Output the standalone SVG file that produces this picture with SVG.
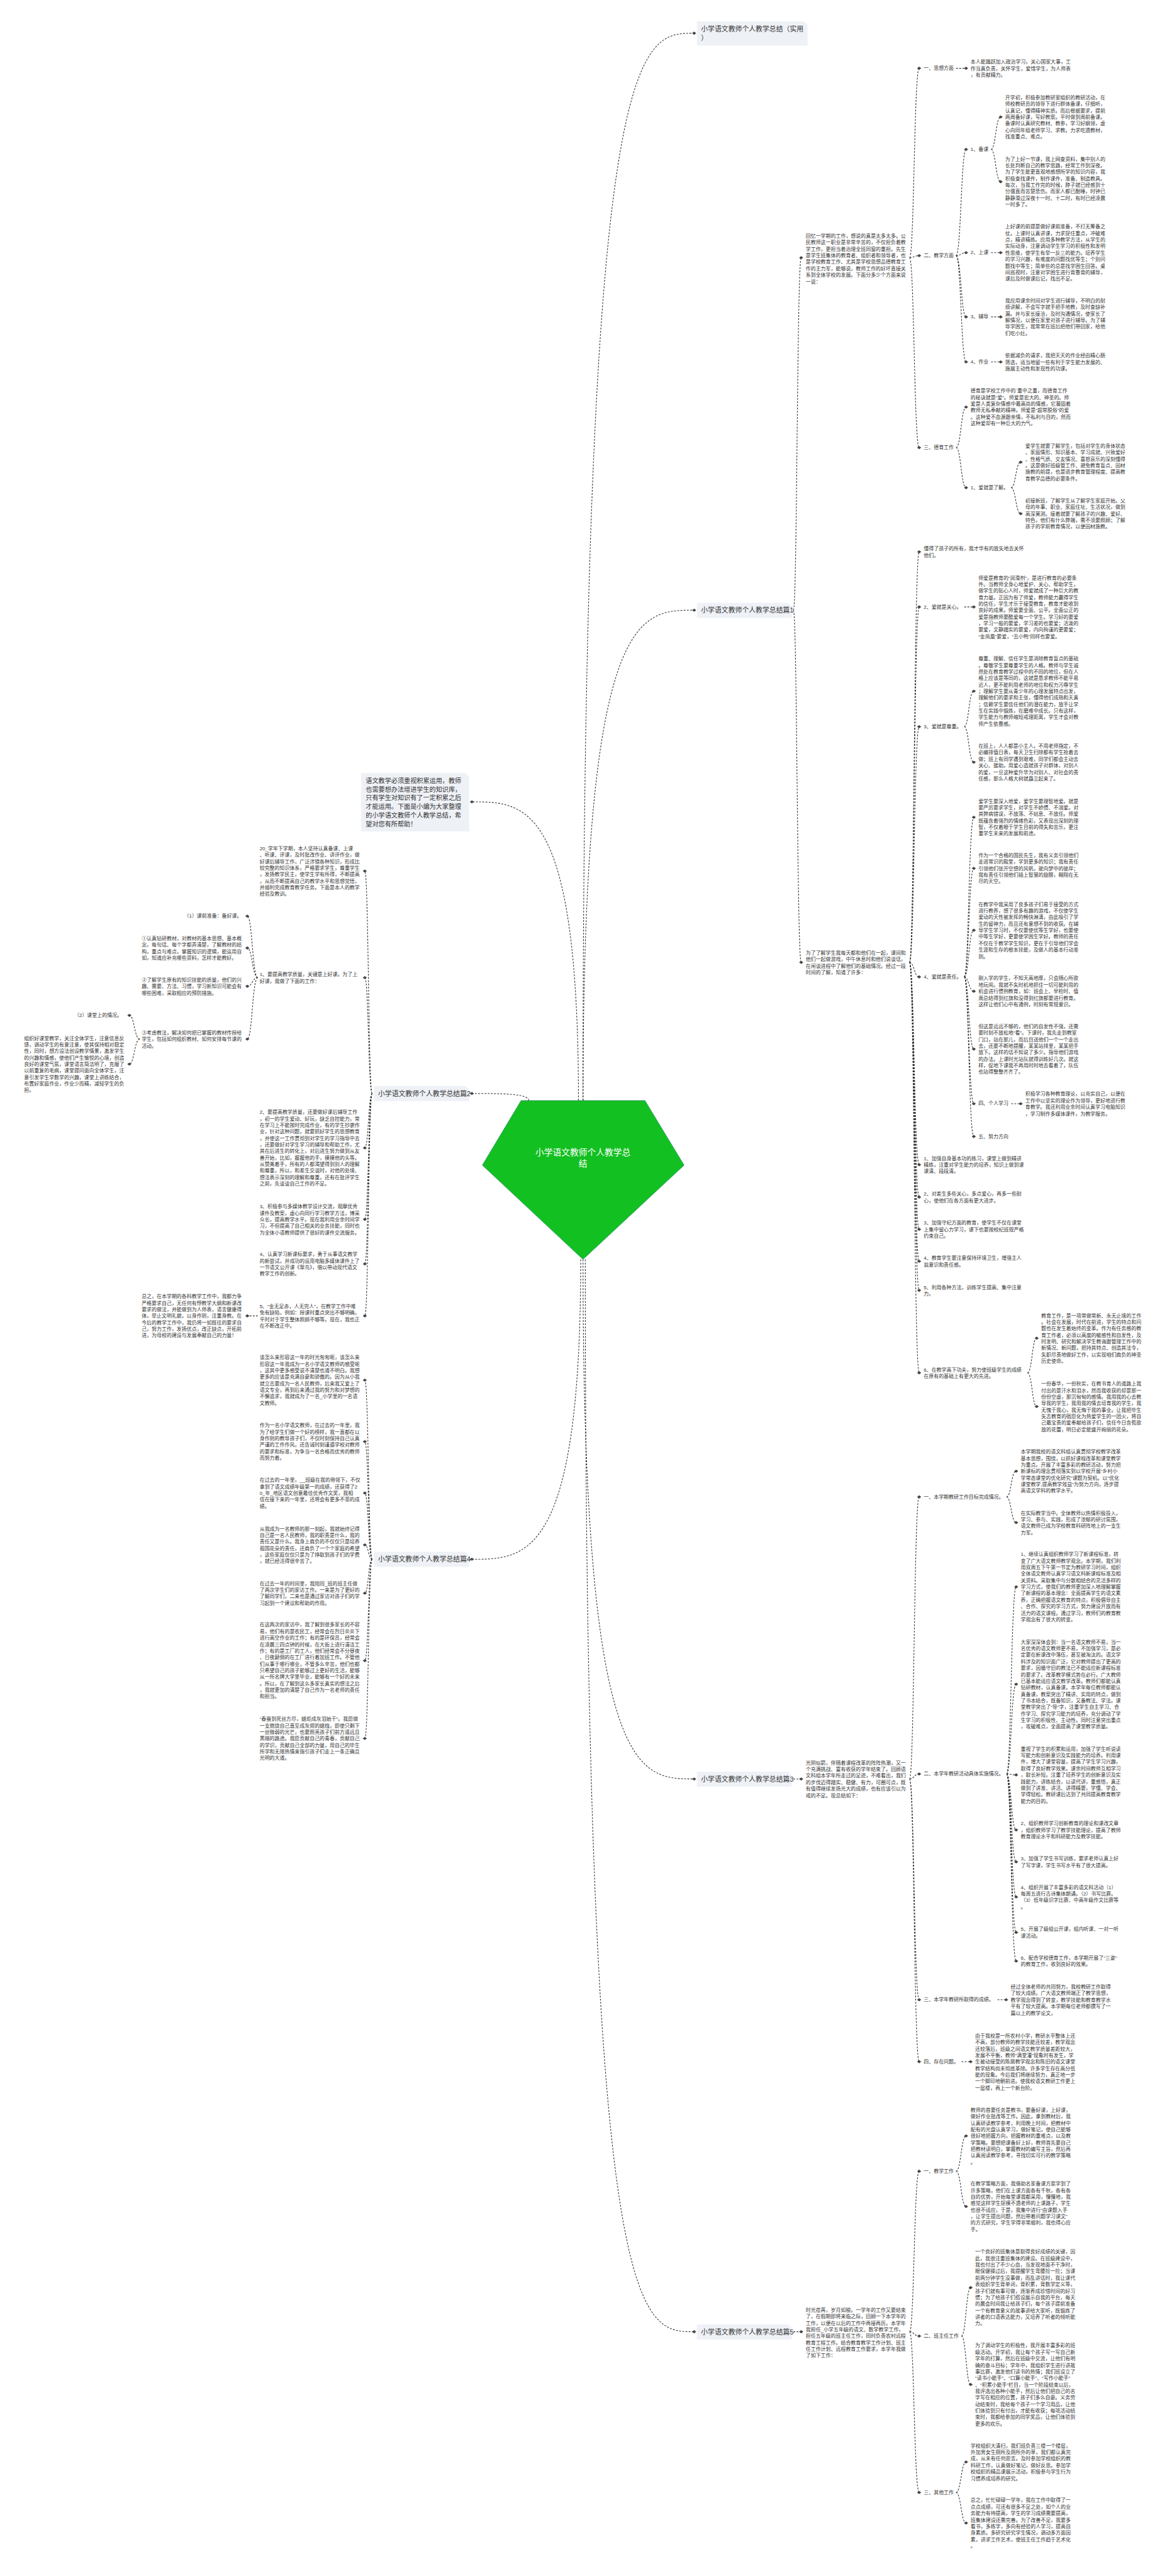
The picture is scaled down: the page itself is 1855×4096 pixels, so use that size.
<svg xmlns="http://www.w3.org/2000/svg" width="1855" height="4096" viewBox="0 0 1855 4096">
<style>
.t{font-family:'Liberation Sans','Noto Sans CJK SC',sans-serif;font-size:11px;fill:#333;dominant-baseline:central}
.h{font-size:15px}
.i{font-size:14px}
.m{font-size:19px;fill:#fff;text-anchor:middle}
.e{text-anchor:end}
.c{fill:none;stroke:#333;stroke-width:1.5;stroke-dasharray:4 3;marker-end:url(#dm)}
.b{fill:#eef1f6}
</style>
<defs>
<marker id="dm" markerUnits="userSpaceOnUse" markerWidth="10" markerHeight="10" viewBox="-5 -5 10 10" refX="0" refY="0" orient="0"><path d="M-4.5,0L0,-3.5L4.5,0L0,3.5Z" fill="#444"/></marker>
</defs>
<rect width="1855" height="4096" fill="#fff"/>
<g transform="scale(0.724)">
<g id="connectors">
<path class="c" d="M1270,2417C1270,1761 1153,1761 1036,1761"/>
<path class="c" d="M1161,2417C1161,2401.5 1098,2401.5 1036,2401.5"/>
<path class="c" d="M1275,2766C1275,3424.5 1155,3424.5 1036,3424.5"/>
<path class="c" d="M1280,2417C1280,73 1402,73 1524,73"/>
<path class="c" d="M1280,2417C1280,1340 1402,1340 1524,1340"/>
<path class="c" d="M1280,2766C1280,3907 1402,3907 1524,3907"/>
<path class="c" d="M1285,2766C1285,5121 1404,5121 1524,5121"/>
<path class="c" d="M1742,1340C1750,1340 1750,566 1759,566"/>
<path class="c" d="M1742,1340C1750,1340 1750,2113.5 1759,2113.5"/>
<path class="c" d="M1997,566C2007,566 2007,150 2018,150"/>
<path class="c" d="M1997,566C2007,566 2007,561.5 2018,561.5"/>
<path class="c" d="M1997,566C2007,566 2007,983 2018,983"/>
<path class="c" d="M2099,150L2121,150"/>
<path class="c" d="M2099,561.5C2110,561.5 2110,328 2121,328"/>
<path class="c" d="M2099,561.5C2110,561.5 2110,555 2121,555"/>
<path class="c" d="M2099,561.5C2110,561.5 2110,696 2121,696"/>
<path class="c" d="M2099,561.5C2110,561.5 2110,795 2121,795"/>
<path class="c" d="M2176,328C2186,328 2186,257 2197,257"/>
<path class="c" d="M2176,328C2186,328 2186,399 2197,399"/>
<path class="c" d="M2176,555L2197,555"/>
<path class="c" d="M2176,696L2197,696"/>
<path class="c" d="M2176,795L2197,795"/>
<path class="c" d="M2099,983C2110,983 2110,894 2121,894"/>
<path class="c" d="M2099,983C2110,983 2110,1071 2121,1071"/>
<path class="c" d="M2220,1071C2230,1071 2230,1015 2241,1015"/>
<path class="c" d="M2220,1071C2230,1071 2230,1128 2241,1128"/>
<path class="c" d="M1997,2113.5C2007,2113.5 2007,1212 2018,1212"/>
<path class="c" d="M1997,2113.5C2007,2113.5 2007,1333 2018,1333"/>
<path class="c" d="M1997,2113.5C2007,2113.5 2007,1596 2018,1596"/>
<path class="c" d="M1997,2113.5C2007,2113.5 2007,2145.5 2018,2145.5"/>
<path class="c" d="M1997,2113.5C2007,2113.5 2007,2558 2018,2558"/>
<path class="c" d="M1997,2113.5C2007,2113.5 2007,2629 2018,2629"/>
<path class="c" d="M1997,2113.5C2007,2113.5 2007,2700 2018,2700"/>
<path class="c" d="M1997,2113.5C2007,2113.5 2007,2770 2018,2770"/>
<path class="c" d="M1997,2113.5C2007,2113.5 2007,2834 2018,2834"/>
<path class="c" d="M1997,2113.5C2007,2113.5 2007,3015 2018,3015"/>
<path class="c" d="M2117,1333L2138,1333"/>
<path class="c" d="M2117,1596C2127,1596 2127,1518 2138,1518"/>
<path class="c" d="M2117,1596C2127,1596 2127,1674 2138,1674"/>
<path class="c" d="M2117,2145.5C2127,2145.5 2127,1795 2138,1795"/>
<path class="c" d="M2117,2145.5C2127,2145.5 2127,1907 2138,1907"/>
<path class="c" d="M2117,2145.5C2127,2145.5 2127,2043 2138,2043"/>
<path class="c" d="M2117,2145.5C2127,2145.5 2127,2177 2138,2177"/>
<path class="c" d="M2117,2145.5C2127,2145.5 2127,2304 2138,2304"/>
<path class="c" d="M2117,2145.5C2127,2145.5 2127,2424 2138,2424"/>
<path class="c" d="M2117,2145.5C2127,2145.5 2127,2496 2138,2496"/>
<path class="c" d="M2220,2424L2241,2424"/>
<path class="c" d="M2256,3015C2266,3015 2266,2939 2276,2939"/>
<path class="c" d="M2256,3015C2266,3015 2266,3089 2276,3089"/>
<path class="c" d="M1742,3907L1759,3907"/>
<path class="c" d="M1997,3907C2007,3907 2007,3287.5 2018,3287.5"/>
<path class="c" d="M1997,3907C2007,3907 2007,3896 2018,3896"/>
<path class="c" d="M1997,3907C2007,3907 2007,4392 2018,4392"/>
<path class="c" d="M1997,3907C2007,3907 2007,4528 2018,4528"/>
<path class="c" d="M2210,3287.5C2220,3287.5 2220,3231 2231,3231"/>
<path class="c" d="M2210,3287.5C2220,3287.5 2220,3344 2231,3344"/>
<path class="c" d="M2210,3896C2220,3896 2220,3485 2231,3485"/>
<path class="c" d="M2210,3896C2220,3896 2220,3699 2231,3699"/>
<path class="c" d="M2210,3896C2220,3896 2220,3898 2231,3898"/>
<path class="c" d="M2210,3896C2220,3896 2220,4019 2231,4019"/>
<path class="c" d="M2210,3896C2220,3896 2220,4089 2231,4089"/>
<path class="c" d="M2210,3896C2220,3896 2220,4166 2231,4166"/>
<path class="c" d="M2210,3896C2220,3896 2220,4244 2231,4244"/>
<path class="c" d="M2210,3896C2220,3896 2220,4307 2231,4307"/>
<path class="c" d="M2190,4392L2209,4392"/>
<path class="c" d="M2111,4528L2131,4528"/>
<path class="c" d="M1742,5121L1759,5121"/>
<path class="c" d="M1997,5121C2007,5121 2007,4768.5 2018,4768.5"/>
<path class="c" d="M1997,5121C2007,5121 2007,5130.5 2018,5130.5"/>
<path class="c" d="M1997,5121C2007,5121 2007,5474 2018,5474"/>
<path class="c" d="M2099,4768.5C2110,4768.5 2110,4691 2121,4691"/>
<path class="c" d="M2099,4768.5C2110,4768.5 2110,4846 2121,4846"/>
<path class="c" d="M2111,5130.5C2121,5130.5 2121,5024 2131,5024"/>
<path class="c" d="M2111,5130.5C2121,5130.5 2121,5237 2131,5237"/>
<path class="c" d="M2099,5474C2110,5474 2110,5407 2121,5407"/>
<path class="c" d="M2099,5474C2110,5474 2110,5541 2121,5541"/>
<path class="c" d="M817,2401.5C809,2401.5 809,1913 801,1913"/>
<path class="c" d="M817,2401.5C809,2401.5 809,2147 801,2147"/>
<path class="c" d="M817,2401.5C809,2401.5 809,2521 801,2521"/>
<path class="c" d="M817,2401.5C809,2401.5 809,2678 801,2678"/>
<path class="c" d="M817,2401.5C809,2401.5 809,2776 801,2776"/>
<path class="c" d="M817,2401.5C809,2401.5 809,2890 801,2890"/>
<path class="c" d="M566,2147C554,2147 554,2012 543,2012"/>
<path class="c" d="M566,2147C554,2147 554,2082 543,2082"/>
<path class="c" d="M566,2147C554,2147 554,2166 543,2166"/>
<path class="c" d="M566,2147C554,2147 554,2282 543,2282"/>
<path class="c" d="M307,2282C295,2282 295,2230 284,2230"/>
<path class="c" d="M307,2282C295,2282 295,2337 284,2337"/>
<path class="c" d="M566,2890L543,2890"/>
<path class="c" d="M817,3424.5C809,3424.5 809,3031 801,3031"/>
<path class="c" d="M817,3424.5C809,3424.5 809,3166 801,3166"/>
<path class="c" d="M817,3424.5C809,3424.5 809,3279 801,3279"/>
<path class="c" d="M817,3424.5C809,3424.5 809,3393 801,3393"/>
<path class="c" d="M817,3424.5C809,3424.5 809,3499 801,3499"/>
<path class="c" d="M817,3424.5C809,3424.5 809,3647 801,3647"/>
<path class="c" d="M817,3424.5C809,3424.5 809,3818 801,3818"/>
</g>
<g id="root">
<polygon points="1144,2417 1416,2417 1502,2559 1280,2766 1059,2559" fill="#13c021" stroke="#2b8a74" stroke-width="1"/>
<text class="t m" x="1280" y="2530"><tspan x="1280" dy="0">小学语文教师个人教学总</tspan><tspan x="1280" dy="25">结</tspan></text>
</g>
<g id="n-intro">
<path class="b" d="M793,1698H1022L1030,1706V1826H793Z"/>
<text class="t i" x="803" y="1714"><tspan x="803" dy="0">语文教学必须重视积累运用，教师</tspan><tspan x="803" dy="19">也需要想办法增进学生的知识库，</tspan><tspan x="803" dy="19">只有学生对知识有了一定积累之后</tspan><tspan x="803" dy="19">才能运用。下面是小编为大家整理</tspan><tspan x="803" dy="19">的小学语文教师个人教学总结，希</tspan><tspan x="803" dy="19">望对您有所帮助！</tspan></text>
</g>
<g id="n-shiyong">
<path class="b" d="M1530,47H1765L1773,55V100H1530Z"/>
<text class="t h" x="1539" y="64"><tspan x="1539" dy="0">小学语文教师个人教学总结（实用</tspan><tspan x="1539" dy="19">）</tspan></text>
</g>
<g id="n-p1">
<path class="b" d="M1530,1324H1730L1738,1332V1357H1530Z"/>
<text class="t h" x="1539" y="1340">小学语文教师个人教学总结篇1</text>
</g>
<g id="n-p3">
<path class="b" d="M1530,3891H1730L1738,3899V3924H1530Z"/>
<text class="t h" x="1539" y="3907">小学语文教师个人教学总结篇3</text>
</g>
<g id="n-p5">
<path class="b" d="M1530,5105H1730L1738,5113V5138H1530Z"/>
<text class="t h" x="1539" y="5121">小学语文教师个人教学总结篇5</text>
</g>
<g id="n-p2">
<path class="b" d="M821,2385H1022L1030,2393V2418H821Z"/>
<text class="t h" x="830" y="2401.5">小学语文教师个人教学总结篇2</text>
</g>
<g id="n-p4">
<path class="b" d="M821,3408H1022L1030,3416V3441H821Z"/>
<text class="t h" x="830" y="3424.5">小学语文教师个人教学总结篇4</text>
</g>
<g id="n-A">
<text class="t" x="1769" y="518"><tspan x="1769" dy="0">回忆一学期的工作，想说的真是太多太多。公</tspan><tspan x="1769" dy="14.3">民教师这一职业是非常辛苦的，不仅担负着教</tspan><tspan x="1769" dy="14.3">学工作，更担当着治理全班同窗的重担。先生</tspan><tspan x="1769" dy="14.3">是学生班集体的教育者、组织者和领导者，也</tspan><tspan x="1769" dy="14.3">是学校教育工作、尤其是学校思想品德教育工</tspan><tspan x="1769" dy="14.3">作的主力军，能够说，教师工作的好坏直接关</tspan><tspan x="1769" dy="14.3">系到全体学校的发展。下面分多少个方面来说</tspan><tspan x="1769" dy="14.3">一说：</tspan></text>
</g>
<g id="n-A1">
<text class="t" x="2028" y="150">一、思想方面</text>
<text class="t" x="2131" y="135.7"><tspan x="2131" dy="0">本人能踊跃加入政治学习，关心国家大事，工</tspan><tspan x="2131" dy="14.3">作当真负责，关怀学生，爱惜学生，为人师表</tspan><tspan x="2131" dy="14.3">，有贡献精力。</tspan></text>
</g>
<g id="n-A2">
<text class="t" x="2028" y="561.5">二、教学方面</text>
<text class="t" x="2131" y="328">1、备课</text>
<text class="t" x="2207" y="214.1"><tspan x="2207" dy="0">开学初，积极参加教研室组织的教研活动，在</tspan><tspan x="2207" dy="14.3">师校教研员的领导下进行群体备课，仔细听，</tspan><tspan x="2207" dy="14.3">认真记，懂得精神实质。而后根据要求，提前</tspan><tspan x="2207" dy="14.3">两周备好课，写好教案。平时做到周前备课。</tspan><tspan x="2207" dy="14.3">备课时认真研究教材、教参，学习好纲领，虚</tspan><tspan x="2207" dy="14.3">心向同年组老师学习、求教。力求吃透教材，</tspan><tspan x="2207" dy="14.3">找准重点、难点。</tspan></text>
<text class="t" x="2207" y="349"><tspan x="2207" dy="0">为了上好一节课，我上网查资料，集中别人的</tspan><tspan x="2207" dy="14.3">长处判断自己的教学思路，经常工作到深夜。</tspan><tspan x="2207" dy="14.3">为了学生能更直观地感想所学的知识内容，我</tspan><tspan x="2207" dy="14.3">积极查找课件，制作课件，准备、制造教具。</tspan><tspan x="2207" dy="14.3">每次，当我工作完的时候，脖子就已经感到十</tspan><tspan x="2207" dy="14.3">分僵直而苦楚悲伤。而家人都已酣睡，时钟已</tspan><tspan x="2207" dy="14.3">静静滑过深夜十一时、十二时，有时已经凌晨</tspan><tspan x="2207" dy="14.3">一时多了。</tspan></text>
<text class="t" x="2131" y="555">2、上课</text>
<text class="t" x="2207" y="497.8"><tspan x="2207" dy="0">上好课的前提是做好课前准备，不打无筹备之</tspan><tspan x="2207" dy="14.3">仗。上课时认真讲课，力求捉住重点，冲破难</tspan><tspan x="2207" dy="14.3">点，精讲精练。应用多种教学方法，从学生的</tspan><tspan x="2207" dy="14.3">实际动身，注意调动学生学习的积极性和发明</tspan><tspan x="2207" dy="14.3">性思维，使学生有举一反三的能力。培养学生</tspan><tspan x="2207" dy="14.3">的学习兴趣，有难度的问题找优等生；个别问</tspan><tspan x="2207" dy="14.3">题找中等生；简单些的总是找学困生回答。桌</tspan><tspan x="2207" dy="14.3">间巡视时，注意对学困生进行背靠背的辅导，</tspan><tspan x="2207" dy="14.3">课后及时做课后记，找出不足。</tspan></text>
<text class="t" x="2131" y="696">3、辅导</text>
<text class="t" x="2207" y="660.25"><tspan x="2207" dy="0">我应用课余时间对学生进行辅导，不明白的耐</tspan><tspan x="2207" dy="14.3">烦讲解，不会写字就手把手地教，及时查缺补</tspan><tspan x="2207" dy="14.3">漏。并与家长接洽，及时沟通情况，使家长了</tspan><tspan x="2207" dy="14.3">解情况，以便在家里对孩子进行辅导。为了辅</tspan><tspan x="2207" dy="14.3">导学困生，我常常在班后把他们带回家，给他</tspan><tspan x="2207" dy="14.3">们吃小灶。</tspan></text>
<text class="t" x="2131" y="795">4、作业</text>
<text class="t" x="2207" y="780.7"><tspan x="2207" dy="0">依据减负的请求，我把天天的作业经由精心肠</tspan><tspan x="2207" dy="14.3">筛选，适当地留一些有利于学生能力发展的、</tspan><tspan x="2207" dy="14.3">施展主动性和发现性的功课。</tspan></text>
</g>
<g id="n-A3">
<text class="t" x="2028" y="983">三、德育工作</text>
<text class="t" x="2131" y="858.25"><tspan x="2131" dy="0">德育是学校工作中的`重中之重，而德育工作</tspan><tspan x="2131" dy="14.3">的秘诀就是“爱”。师爱是宏大的、神圣的。师</tspan><tspan x="2131" dy="14.3">爱是人类复杂情感中最高尚的情感，它凝固着</tspan><tspan x="2131" dy="14.3">教师无私奉献的精神。师爱是“超常脱俗”的爱</tspan><tspan x="2131" dy="14.3">。这种爱不血源跟亲情，不私利与目的，然而</tspan><tspan x="2131" dy="14.3">这种爱却有一种巨大的力气。</tspan></text>
<text class="t" x="2131" y="1071">1、爱就是了解。</text>
<text class="t" x="2251" y="979.25"><tspan x="2251" dy="0">爱学生就要了解学生，包括对学生的身体状态</tspan><tspan x="2251" dy="14.3">、家庭情形、知识基本、学习成就、兴致爱好</tspan><tspan x="2251" dy="14.3">、性格气质、交友情况、喜怒哀乐的深刻懂得</tspan><tspan x="2251" dy="14.3">。这是做好班级管工作、避免教育盲点、因材</tspan><tspan x="2251" dy="14.3">施教的前提，也是进步教育管理程度、提高教</tspan><tspan x="2251" dy="14.3">育教学品德的必要条件。</tspan></text>
<text class="t" x="2251" y="1099.4"><tspan x="2251" dy="0">初接新班，了解学生从了解学生家庭开始。父</tspan><tspan x="2251" dy="14.3">母的年事、职业、家庭住址、生活状况，做到</tspan><tspan x="2251" dy="14.3">高深莫测。接着就要了解孩子的兴趣、爱好、</tspan><tspan x="2251" dy="14.3">特色，他们有什么弊端，需不须要照顾；了解</tspan><tspan x="2251" dy="14.3">孩子的学前教育情况，以便因材施教。</tspan></text>
</g>
<g id="n-B">
<text class="t" x="1769" y="2092.55"><tspan x="1769" dy="0">为了了解学生我每天都和他们在一起，课间和</tspan><tspan x="1769" dy="14.3">他们一起做游戏，中午休息时和他们说谈话，</tspan><tspan x="1769" dy="14.3">在闲谈进程中了解他们的基础情况。经过一段</tspan><tspan x="1769" dy="14.3">时间的了解，知道了许多：</tspan></text>
</g>
<g id="n-B1">
<text class="t" x="2028" y="1204.85"><tspan x="2028" dy="0">懂得了孩子的所有，我才华有的放矢地去关怀</tspan><tspan x="2028" dy="14.3">他们。</tspan></text>
</g>
<g id="n-B2">
<text class="t" x="2028" y="1333">2、爱就是关心。</text>
<text class="t" x="2148" y="1268.65"><tspan x="2148" dy="0">师爱是教育的“润滑剂”，是进行教育的必要条</tspan><tspan x="2148" dy="14.3">件。当教师全身心地爱护、关心、帮助学生，</tspan><tspan x="2148" dy="14.3">做学生的贴心人时，师爱就成了一种巨大的教</tspan><tspan x="2148" dy="14.3">育力量。正因为有了师爱，教师能力赢得学生</tspan><tspan x="2148" dy="14.3">的信任，学生才乐于接受教育，教育才能收到</tspan><tspan x="2148" dy="14.3">良好的成果。师爱要全面、公平。全面公正的</tspan><tspan x="2148" dy="14.3">爱是指教师要酷爱每一个学生。学习好的要爱</tspan><tspan x="2148" dy="14.3">，学习一般的要爱，学习差的也要爱；活泼的</tspan><tspan x="2148" dy="14.3">要爱，文静踏实的要爱，内向拘谨的更要爱；</tspan><tspan x="2148" dy="14.3">“金凤凰”要爱，“丑小鸭”同样也要爱。</tspan></text>
</g>
<g id="n-B3">
<text class="t" x="2028" y="1596">3、爱就是尊重。</text>
<text class="t" x="2148" y="1446.5"><tspan x="2148" dy="0">尊重、理解、信任学生是消除教育盲点的基础</tspan><tspan x="2148" dy="14.3">。尊敬学生要尊重学生的人格。教师与学生诚</tspan><tspan x="2148" dy="14.3">然处在教育教学过程中的不同的地位，但在人</tspan><tspan x="2148" dy="14.3">格上应该是等同的，这就是恳求教师不能平易</tspan><tspan x="2148" dy="14.3">近人，更不能利用老师的地位和权力污辱学生</tspan><tspan x="2148" dy="14.3">；理解学生要从青少年的心理发展特点出发，</tspan><tspan x="2148" dy="14.3">理解他们的要求和主张，懂得他们成熟和天真</tspan><tspan x="2148" dy="14.3">；信赖学生要信任他们的潜在能力，放手让学</tspan><tspan x="2148" dy="14.3">生在实践中锻炼，在磨难中成长。只有这样，</tspan><tspan x="2148" dy="14.3">学生能力与教师缩短戒理距离，学生才会对教</tspan><tspan x="2148" dy="14.3">师产生依靠感。</tspan></text>
<text class="t" x="2148" y="1638.25"><tspan x="2148" dy="0">在班上，人人都是小主人。不用老师指定，不</tspan><tspan x="2148" dy="14.3">必编排值日表，每天卫生扫除都有学生抢着去</tspan><tspan x="2148" dy="14.3">做；班上有同学遇到艰难，同学们都会主动去</tspan><tspan x="2148" dy="14.3">关心、援助。用爱心造就孩子对群体，对别人</tspan><tspan x="2148" dy="14.3">的爱，一旦这种爱升华为对别人、对社会的责</tspan><tspan x="2148" dy="14.3">任感，那么人格大树就矗立起来了。</tspan></text>
</g>
<g id="n-B4">
<text class="t" x="2028" y="2145.5">4、爱就是责任。</text>
<text class="t" x="2148" y="1759.25"><tspan x="2148" dy="0">爱学生要深入地爱，爱学生要理智地爱。就是</tspan><tspan x="2148" dy="14.3">要严厉要求学生，对学生不娇惯、不溺爱。对</tspan><tspan x="2148" dy="14.3">其弊病错误，不放荡、不姑息、不放任。师爱</tspan><tspan x="2148" dy="14.3">既蕴含着强烈的情绪色彩，又表现出深刻的理</tspan><tspan x="2148" dy="14.3">智，不仅着眼于学生目前的得失和苦乐，更注</tspan><tspan x="2148" dy="14.3">重学生未来的发展和前途。</tspan></text>
<text class="t" x="2148" y="1878.4"><tspan x="2148" dy="0">作为一个合格的国民先生，我有义务引领他们</tspan><tspan x="2148" dy="14.3">走进常识的殿堂，学到更多的知识；我有责任</tspan><tspan x="2148" dy="14.3">引领他们张开空想的风帆，驶向梦中的彼岸；</tspan><tspan x="2148" dy="14.3">我有责任引领他们插上智慧的翅膀，翱翔在无</tspan><tspan x="2148" dy="14.3">尽的天空。</tspan></text>
<text class="t" x="2148" y="1985.8"><tspan x="2148" dy="0">在教学中我采用了良多孩子们易于接受的方式</tspan><tspan x="2148" dy="14.3">进行教养，想了很多有趣的游戏，不仅使学生</tspan><tspan x="2148" dy="14.3">爱动的天性被发挥的畅快淋漓，由此吸引了学</tspan><tspan x="2148" dy="14.3">生的留神力，而且还有意想不到的收获。在辅</tspan><tspan x="2148" dy="14.3">导学生学习时，不仅要使优等生学好，也要使</tspan><tspan x="2148" dy="14.3">中等生学好，更要使学困生学好。教师的责任</tspan><tspan x="2148" dy="14.3">不仅在于教学学生知识，更在于引导他们学会</tspan><tspan x="2148" dy="14.3">生涯和生存的根本技能，及做人的基本行动准</tspan><tspan x="2148" dy="14.3">则。</tspan></text>
<text class="t" x="2148" y="2148.4"><tspan x="2148" dy="0">刚入学的学生，不知天高地厚，只会随心所欲</tspan><tspan x="2148" dy="14.3">地玩闹。我就不失时机地抓住一切可能利用的</tspan><tspan x="2148" dy="14.3">机会进行惯例教育，如：班会上、早检时、值</tspan><tspan x="2148" dy="14.3">周总结得到红旗和没得到红旗都要进行教育。</tspan><tspan x="2148" dy="14.3">这样让他们心中有通例，时刻有常规意识。</tspan></text>
<text class="t" x="2148" y="2254"><tspan x="2148" dy="0">但这是远远不够的，他们的自发性不强，还需</tspan><tspan x="2148" dy="14.3">要时刻不放松地“看”。下课时，我先走到教室</tspan><tspan x="2148" dy="14.3">门口，站在那儿，而后目送他们一个一个走出</tspan><tspan x="2148" dy="14.3">去，还要不断地提醒，某某站排里，某某把手</tspan><tspan x="2148" dy="14.3">放下。这样的话不知说了多少。指导他们游戏</tspan><tspan x="2148" dy="14.3">的办法。上课时光站队就得训练好几次。就这</tspan><tspan x="2148" dy="14.3">样，促地下课我不再用时时地去看着了，队伍</tspan><tspan x="2148" dy="14.3">也站得整整齐齐了。</tspan></text>
<text class="t" x="2148" y="2424">四、个人学习</text>
<text class="t" x="2251" y="2402.55"><tspan x="2251" dy="0">积极学习各种教育理论，以充实自己，以便在</tspan><tspan x="2251" dy="14.3">工作中以坚实的理论作为领导，更好地进行教</tspan><tspan x="2251" dy="14.3">育教学。我还利用业余时间认真学习电脑知识</tspan><tspan x="2251" dy="14.3">，学习制作多媒体课件，为教学服务。</tspan></text>
<text class="t" x="2148" y="2496">五、努力方向</text>
</g>
<g id="n-B5">
<text class="t" x="2028" y="2543.7"><tspan x="2028" dy="0">1、加强自身基本功的练习，课堂上做到精讲</tspan><tspan x="2028" dy="14.3">精练，注重对学生能力的培养，知识上做到课</tspan><tspan x="2028" dy="14.3">课清、段段清。</tspan></text>
<text class="t" x="2028" y="2621.85"><tspan x="2028" dy="0">2、对差生多些关心，多点爱心，再多一些耐</tspan><tspan x="2028" dy="14.3">心，使他们在各方面有更大进步。</tspan></text>
<text class="t" x="2028" y="2685.7"><tspan x="2028" dy="0">3、加强守纪方面的教育，使学生不仅在课堂</tspan><tspan x="2028" dy="14.3">上集中留心力学习，课下也要按校纪班规严格</tspan><tspan x="2028" dy="14.3">约束自己。</tspan></text>
<text class="t" x="2028" y="2762.85"><tspan x="2028" dy="0">4、教育学生要注意保持环境卫生，增强主人</tspan><tspan x="2028" dy="14.3">翁意识和责任感。</tspan></text>
<text class="t" x="2028" y="2826.85"><tspan x="2028" dy="0">5、利用各种方法，训练学生提高、集中注意</tspan><tspan x="2028" dy="14.3">力。</tspan></text>
<text class="t" x="2028" y="3007.85"><tspan x="2028" dy="0">6、在教学高下功夫，努力使班级学生的成绩</tspan><tspan x="2028" dy="14.3">在原有的基础上有更大的先进。</tspan></text>
<text class="t" x="2286" y="2889"><tspan x="2286" dy="0">教育工作，是一项常做常新、永无止境的工作</tspan><tspan x="2286" dy="14.3">。社会在发展，时代在前进，学生的特点和问</tspan><tspan x="2286" dy="14.3">题也在发生着始终的变革。作为有任务感的教</tspan><tspan x="2286" dy="14.3">育工作者，必须以高度的敏感性和自发性，及</tspan><tspan x="2286" dy="14.3">时发明、研究和解决学生教诲跟管理工作中的</tspan><tspan x="2286" dy="14.3">新情况、新问题，把持其特点、创造其法令，</tspan><tspan x="2286" dy="14.3">失职尽责地做好工作，以实现咱们肩负的神圣</tspan><tspan x="2286" dy="14.3">历史使命。</tspan></text>
<text class="t" x="2286" y="3039"><tspan x="2286" dy="0">一份春华，一份秋实，在教书育人的道路上我</tspan><tspan x="2286" dy="14.3">付出的是汗水和泪水，然而我收获的却是那一</tspan><tspan x="2286" dy="14.3">份份空虚，那沉甸甸的感情。我用我的心去教</tspan><tspan x="2286" dy="14.3">导我的学生，我用我的情去培育我的学生，我</tspan><tspan x="2286" dy="14.3">无愧于我心，我无悔于我的事业。让我把毕生</tspan><tspan x="2286" dy="14.3">矢志教育的宿愿化为热爱学生的一团火，将自</tspan><tspan x="2286" dy="14.3">己最宝贵的爱奉献给孩子们，信任今日含苞欲</tspan><tspan x="2286" dy="14.3">放的花蕾，明日必定能盛开绚丽的花朵。</tspan></text>
</g>
<g id="n-C">
<text class="t" x="1769" y="3871.25"><tspan x="1769" dy="0">光阴似箭，伴随着课程改革的阵阵热潮，又一</tspan><tspan x="1769" dy="14.3">个充满挑战、富有收获的学年结束了。回顾语</tspan><tspan x="1769" dy="14.3">文科组本学年所走过的足迹，不难看出，我们</tspan><tspan x="1769" dy="14.3">的步伐迈得踏实、稳健、有力，可圈可点，既</tspan><tspan x="1769" dy="14.3">有值得继续发扬光大的成绩，也有应该引以为</tspan><tspan x="1769" dy="14.3">戒的不足。现总结如下：</tspan></text>
</g>
<g id="n-C1">
<text class="t" x="2028" y="3287.5">一、本学期教研工作目标完成情况。</text>
<text class="t" x="2241" y="3188.1"><tspan x="2241" dy="0">本学期我校的语文科组认真贯彻学校教学改革</tspan><tspan x="2241" dy="14.3">基本思想，围绕，以抓好课程改革和课堂教学</tspan><tspan x="2241" dy="14.3">为重点。开展了丰富多彩的教研活动，努力把</tspan><tspan x="2241" dy="14.3">新课标的理念贯彻落实到以学校开展“乡村小</tspan><tspan x="2241" dy="14.3">学常态课堂的优化研究”课题为契机。以“优化</tspan><tspan x="2241" dy="14.3">课堂教学,提高教学效益”为努力方向，逐步提</tspan><tspan x="2241" dy="14.3">高语文学科的教学水平。</tspan></text>
<text class="t" x="2241" y="3322.55"><tspan x="2241" dy="0">在实际教学当中。全体教师以热情积极投入，</tspan><tspan x="2241" dy="14.3">学习、参与、实践，形成了浓郁的研讨氛围，</tspan><tspan x="2241" dy="14.3">语文教师已成为学校教育科研阵地上的一支生</tspan><tspan x="2241" dy="14.3">力军。</tspan></text>
</g>
<g id="n-C2">
<text class="t" x="2028" y="3896">二、本学年教研活动具体实施情况。</text>
<text class="t" x="2241" y="3413.5"><tspan x="2241" dy="0">1、继续认真组织教师学习了新课程标准，转</tspan><tspan x="2241" dy="14.3">变了广大语文教师教学观念。本学期，我们利</tspan><tspan x="2241" dy="14.3">用双周五下午第一节定为教研学习时间，组织</tspan><tspan x="2241" dy="14.3">全体语文教师认真学习语文科新课程标准及相</tspan><tspan x="2241" dy="14.3">关资料。采取集中与分散相结合的灵活多样的</tspan><tspan x="2241" dy="14.3">学习方式，使我们的教师更加深入地理解掌握</tspan><tspan x="2241" dy="14.3">了新课程的基本理念：全面提高学生的语文素</tspan><tspan x="2241" dy="14.3">养，正确把握语文教育的特点，积极倡导自主</tspan><tspan x="2241" dy="14.3">、合作、探究的学习方式，努力建设开放而有</tspan><tspan x="2241" dy="14.3">活力的语文课程。通过学习，教师们的教育教</tspan><tspan x="2241" dy="14.3">学观念有了很大的转变。</tspan></text>
<text class="t" x="2241" y="3606.05"><tspan x="2241" dy="0">大家深深体会到：当一名语文教师不易，当一</tspan><tspan x="2241" dy="14.3">名优秀的语文教师更不易，不加强学习，是必</tspan><tspan x="2241" dy="14.3">定要在新课改中落伍，甚至被淘汰的。语文学</tspan><tspan x="2241" dy="14.3">科涉及的知识面广泛，它对教师提出了更高的</tspan><tspan x="2241" dy="14.3">要求，因循守旧的教法已不能适应新课程标准</tspan><tspan x="2241" dy="14.3">的要求了。改革教学模式势在必行。广大教师</tspan><tspan x="2241" dy="14.3">已基本能适应语文教学改革。教师们都能认真</tspan><tspan x="2241" dy="14.3">钻研教材，认真备课。本学年每位教师都能认</tspan><tspan x="2241" dy="14.3">真备课，教案突出了精讲、实用的特点，做到</tspan><tspan x="2241" dy="14.3">了书本结合，既备知识，又备教法、学法。课</tspan><tspan x="2241" dy="14.3">堂教学突出了“导”字，注重学生自主学习、合</tspan><tspan x="2241" dy="14.3">作学习、探究学习能力的培养，充分调动了学</tspan><tspan x="2241" dy="14.3">生学习的积极性、主动性。同时注意突出重点</tspan><tspan x="2241" dy="14.3">，攻破难点，全面提高了课堂教学质量。</tspan></text>
<text class="t" x="2241" y="3840.8"><tspan x="2241" dy="0">重视了学生的积累和运用，加强了学生听说读</tspan><tspan x="2241" dy="14.3">写能力和创新意识及实践能力的培养。利用课</tspan><tspan x="2241" dy="14.3">件，增大了课堂容量，提高了学生学习兴趣，</tspan><tspan x="2241" dy="14.3">取得了良好教学效果。课余时间教师互相学习</tspan><tspan x="2241" dy="14.3">，取长补短。注重了培养学生的创新意识及实</tspan><tspan x="2241" dy="14.3">践能力，讲练结合，以读代讲，重感悟，真正</tspan><tspan x="2241" dy="14.3">做到了讲准、讲活、讲得精要，学懂、学会、</tspan><tspan x="2241" dy="14.3">学得轻松。教研课后达到了共同提高教育教学</tspan><tspan x="2241" dy="14.3">能力的目的。</tspan></text>
<text class="t" x="2241" y="4004.7"><tspan x="2241" dy="0">2、组织教师学习创新教育的理论和课改文章</tspan><tspan x="2241" dy="14.3">，组织教师学习了教学技能理论，提高了教师</tspan><tspan x="2241" dy="14.3">教育理论水平和科研能力及教学技能。</tspan></text>
<text class="t" x="2241" y="4081.85"><tspan x="2241" dy="0">3、加强了学生书写训练，要求老师认真上好</tspan><tspan x="2241" dy="14.3">了写字课，学生书写水平有了很大提高。</tspan></text>
<text class="t" x="2241" y="4144.55"><tspan x="2241" dy="0">4、组织开展了丰富多彩的语文科活动（1）</tspan><tspan x="2241" dy="14.3">每周五进行古诗集体朗诵。（2）书写比赛。</tspan><tspan x="2241" dy="14.3">（3）低年级识字比赛、中高年级作文比赛等</tspan><tspan x="2241" dy="14.3">。</tspan></text>
<text class="t" x="2241" y="4236.85"><tspan x="2241" dy="0">5、开展了级组公开课，组内听课、一对一听</tspan><tspan x="2241" dy="14.3">课活动。</tspan></text>
<text class="t" x="2241" y="4299.85"><tspan x="2241" dy="0">6、配合学校德育工作，本学期开展了“三姿”</tspan><tspan x="2241" dy="14.3">的教育工作，收到良好的效果。</tspan></text>
</g>
<g id="n-C3">
<text class="t" x="2028" y="4392">三、本学年教研所取得的成绩。</text>
<text class="t" x="2219" y="4363.4"><tspan x="2219" dy="0">经过全体老师的共同努力，我校教研工作取得</tspan><tspan x="2219" dy="14.3">了较大成绩。广大语文教师端正了教学思想，</tspan><tspan x="2219" dy="14.3">教学观念得到了转变，教学技能和教育教学水</tspan><tspan x="2219" dy="14.3">平有了较大提高。本学期每位老师都撰写了一</tspan><tspan x="2219" dy="14.3">篇以上的教学论文，</tspan></text>
</g>
<g id="n-C4">
<text class="t" x="2028" y="4528">四、存在问题。</text>
<text class="t" x="2141" y="4470.8"><tspan x="2141" dy="0">由于我校是一所农村小学，教研水平整体上还</tspan><tspan x="2141" dy="14.3">不高，部分教师的教学技能还较差，教学观念</tspan><tspan x="2141" dy="14.3">还较落后，班级之间语文教学质量差距较大，</tspan><tspan x="2141" dy="14.3">发展不平衡，教师“满堂灌”现象时有发生，学</tspan><tspan x="2141" dy="14.3">生被动接受的陈腐教学观念和陈旧的语文课堂</tspan><tspan x="2141" dy="14.3">教学结构尚未彻底革除。许多学生存在高分低</tspan><tspan x="2141" dy="14.3">能的现象。今后我们将继续努力，真正地一步</tspan><tspan x="2141" dy="14.3">一个脚印地朝前进。使我校语文教研工作更上</tspan><tspan x="2141" dy="14.3">一层楼，再上一个新台阶。</tspan></text>
</g>
<g id="n-D">
<text class="t" x="1769" y="5073"><tspan x="1769" dy="0">时光荏苒，岁月如梭。一学年的工作又要结束</tspan><tspan x="1769" dy="14.3">了，在假期即将来临之际，回顾一下本学年的</tspan><tspan x="1769" dy="14.3">工作，以便在以后的工作中再接再厉。本学年</tspan><tspan x="1769" dy="14.3">我担任_小学五年级的语文、数学教学工作，</tspan><tspan x="1769" dy="14.3">担任五年级的班主任工作，同时负责农村远程</tspan><tspan x="1769" dy="14.3">教育工程工作。结合教育教学工作计划、班主</tspan><tspan x="1769" dy="14.3">任工作计划、远程教育工作要求，本学年我做</tspan><tspan x="1769" dy="14.3">了如下工作：</tspan></text>
</g>
<g id="n-D1">
<text class="t" x="2028" y="4768.5">一、教学工作</text>
<text class="t" x="2131" y="4633.8"><tspan x="2131" dy="0">教师的首要任务是教书，要备好课，上好课，</tspan><tspan x="2131" dy="14.3">做好作业批改等工作。因此，拿到教材后，我</tspan><tspan x="2131" dy="14.3">认真研读教学参考，利用晚上时间，把教材中</tspan><tspan x="2131" dy="14.3">配有的光盘认真学习，做好笔记，使自己能够</tspan><tspan x="2131" dy="14.3">很好地把握方向，把握教材的重难点，以及教</tspan><tspan x="2131" dy="14.3">学策略。要想把课备好上好，教师首先要自己</tspan><tspan x="2131" dy="14.3">把教材读明白，掌握教材的编写主旨，然后再</tspan><tspan x="2131" dy="14.3">认真阅读教学参考，寻找切实可行的教学策略</tspan><tspan x="2131" dy="14.3">。</tspan></text>
<text class="t" x="2131" y="4796"><tspan x="2131" dy="0">在教学策略方面，我借助名家备课方案学到了</tspan><tspan x="2131" dy="14.3">许多策略，他们在上课方面各有千秋，各有各</tspan><tspan x="2131" dy="14.3">自的优势，开始每堂课我都采用，慢慢地，我</tspan><tspan x="2131" dy="14.3">感觉这样学生捉摸不透老师的上课路子，学生</tspan><tspan x="2131" dy="14.3">也很不适应，于是，我集中进行“由课题入手</tspan><tspan x="2131" dy="14.3">，让学生提出问题，然后带着问题学习课文”</tspan><tspan x="2131" dy="14.3">的方式研究，学生学得非常顺利，我也得心应</tspan><tspan x="2131" dy="14.3">手。</tspan></text>
</g>
<g id="n-D2">
<text class="t" x="2028" y="5130.5">二、班主任工作</text>
<text class="t" x="2141" y="4945.35"><tspan x="2141" dy="0">一个良好的班集体是取得良好成绩的关键，因</tspan><tspan x="2141" dy="14.3">此，我很注重班集体的建设。在班级建设中，</tspan><tspan x="2141" dy="14.3">我也付出了不少心血，当发现地面不干净时，</tspan><tspan x="2141" dy="14.3">眼保健操过后，我提醒学生弯腰捡一捡；当课</tspan><tspan x="2141" dy="14.3">前两分钟学生没事做，而乱讲话时，我让课代</tspan><tspan x="2141" dy="14.3">表组织学生背单词，背积累，背数学定义等，</tspan><tspan x="2141" dy="14.3">孩子们就有事可做，逐渐养成珍惜时间的好习</tspan><tspan x="2141" dy="14.3">惯；为了给孩子们搭设展示自我的平台，每天</tspan><tspan x="2141" dy="14.3">的晨会时间我让给孩子们，每个孩子提前准备</tspan><tspan x="2141" dy="14.3">一个有教育意义的故事讲给大家听，既锻炼了</tspan><tspan x="2141" dy="14.3">讲者的口语表达能力，又培养了听者的倾听能</tspan><tspan x="2141" dy="14.3">力。</tspan></text>
<text class="t" x="2141" y="5151.2"><tspan x="2141" dy="0">为了调动学生的积极性，我开展丰富多彩的班</tspan><tspan x="2141" dy="14.3">级活动。开学初，我让每个孩子写一写自己新</tspan><tspan x="2141" dy="14.3">学年的打算，然后在班级中交流，让他们有明</tspan><tspan x="2141" dy="14.3">确的奋斗目标；学年中，我组织学生进行讲故</tspan><tspan x="2141" dy="14.3">事比赛，激发他们读书的热情；我们班设立了</tspan><tspan x="2141" dy="14.3">“读书小能手”、“口算小能手”、“写作小能手”</tspan><tspan x="2141" dy="14.3">、“积累小能手”栏目，当一个阶段结束以后，</tspan><tspan x="2141" dy="14.3">我评选出各种小能手，然后让他们把自己的名</tspan><tspan x="2141" dy="14.3">字写在相应的位置，孩子们多么自豪。义务劳</tspan><tspan x="2141" dy="14.3">动结束时，我给每个孩子一个学习用品，让他</tspan><tspan x="2141" dy="14.3">们体验到只有付出，才能有收获；每项活动结</tspan><tspan x="2141" dy="14.3">束时，我都给参加的同学奖品，让他们体验到</tspan><tspan x="2141" dy="14.3">更多的欢乐。</tspan></text>
</g>
<g id="n-D3">
<text class="t" x="2028" y="5474">三、其他工作</text>
<text class="t" x="2131" y="5371.25"><tspan x="2131" dy="0">学校组织大清扫，我们班负责三楼一个楼层，</tspan><tspan x="2131" dy="14.3">外加男女生厕所及厕所外的草，我们都认真完</tspan><tspan x="2131" dy="14.3">成，从未有任何怨言。及时参加学校组织的教</tspan><tspan x="2131" dy="14.3">科研工作，认真做好笔记，做好反思。参加学</tspan><tspan x="2131" dy="14.3">校组织的精品课展示活动，积极参与学生行为</tspan><tspan x="2131" dy="14.3">习惯养成培养的研究。</tspan></text>
<text class="t" x="2131" y="5491"><tspan x="2131" dy="0">总之，忙忙碌碌一学年，我在工作中取得了一</tspan><tspan x="2131" dy="14.3">点点成绩，可还有很多不足之处，如个人的业</tspan><tspan x="2131" dy="14.3">务能力有待提高，学生的学习成绩需要提高，</tspan><tspan x="2131" dy="14.3">班集体建设还需完善。为了改善不足，我要多</tspan><tspan x="2131" dy="14.3">看书，多练字，多向有经验的人学习，提高自</tspan><tspan x="2131" dy="14.3">身素质。多研究研究学生情况，调动多方面因</tspan><tspan x="2131" dy="14.3">素，讲求工作艺术，使班主任工作趋于艺术化</tspan><tspan x="2131" dy="14.3">。</tspan></text>
</g>
<g id="n-E1">
<text class="t" x="570" y="1863"><tspan x="570" dy="0">20_学年下学期，本人坚持认真备课、上课</tspan><tspan x="570" dy="14.3">、听课、评课，及时批改作业、讲评作业，做</tspan><tspan x="570" dy="14.3">好课后辅导工作，广泛涉猎各种知识，形成比</tspan><tspan x="570" dy="14.3">较完整的知识体系，严格要求学生，尊重学生</tspan><tspan x="570" dy="14.3">，发扬教学民主，使学生学有所得，不断提高</tspan><tspan x="570" dy="14.3">，从而不断提高自己的教学水平和思想觉悟，</tspan><tspan x="570" dy="14.3">并顺利完成教育教学任务。下面是本人的教学</tspan><tspan x="570" dy="14.3">经验及教训。</tspan></text>
</g>
<g id="n-E2">
<text class="t" x="570" y="2139.85"><tspan x="570" dy="0">1、要提高教学质量，关键是上好课。为了上</tspan><tspan x="570" dy="14.3">好课，我做了下面的工作：</tspan></text>
<text class="t e" x="531" y="2012">（1）课前准备：备好课。</text>
<text class="t" x="311" y="2060.55"><tspan x="311" dy="0">①认真钻研教材，对教材的基本思想、基本概</tspan><tspan x="311" dy="14.3">念，每句话、每个字都弄清楚，了解教材的结</tspan><tspan x="311" dy="14.3">构，重点与难点，掌握知识的逻辑，能运用自</tspan><tspan x="311" dy="14.3">如，知道应补充哪些资料，怎样才能教好。</tspan></text>
<text class="t" x="311" y="2151.7"><tspan x="311" dy="0">②了解学生原有的知识技能的质量，他们的兴</tspan><tspan x="311" dy="14.3">趣、需要、方法、习惯，学习新知识可能会有</tspan><tspan x="311" dy="14.3">哪些困难，采取相应的预防措施。</tspan></text>
<text class="t" x="311" y="2267.7"><tspan x="311" dy="0">③考虑教法，解决如何把已掌握的教材传授给</tspan><tspan x="311" dy="14.3">学生，包括如何组织教材、如何安排每节课的</tspan><tspan x="311" dy="14.3">活动。</tspan></text>
<text class="t e" x="268" y="2230">（2）课堂上的情况。</text>
<text class="t" x="53" y="2279.8"><tspan x="53" dy="0">组织好课堂教学，关注全体学生，注意信息反</tspan><tspan x="53" dy="14.3">馈，调动学生的有意注意，使其保持相对稳定</tspan><tspan x="53" dy="14.3">性，同时，想方设法创设教学情景，激发学生</tspan><tspan x="53" dy="14.3">的兴趣和情感，使他们产生愉悦的心境，创造</tspan><tspan x="53" dy="14.3">良好的课堂气氛，课堂语言简洁明了，克服了</tspan><tspan x="53" dy="14.3">以前重复的毛病，课堂提问面向全体学生，注</tspan><tspan x="53" dy="14.3">意引发学生学数学的兴趣，课堂上讲练结合，</tspan><tspan x="53" dy="14.3">布置好家庭作业，作业少而精，减轻学生的负</tspan><tspan x="53" dy="14.3">担。</tspan></text>
</g>
<g id="n-E3">
<text class="t" x="570" y="2442.35"><tspan x="570" dy="0">2、要提高教学质量，还要做好课后辅导工作</tspan><tspan x="570" dy="14.3">，初一的学生爱动、好玩，缺乏自控能力，常</tspan><tspan x="570" dy="14.3">在学习上不能按时完成作业，有的学生抄袭作</tspan><tspan x="570" dy="14.3">业，针对这种问题，就要抓好学生的思想教育</tspan><tspan x="570" dy="14.3">，并使这一工作贯彻到对学生的学习指导中去</tspan><tspan x="570" dy="14.3">，还要做好对学生学习的辅导和帮助工作，尤</tspan><tspan x="570" dy="14.3">其在后进生的转化上，对后进生努力做到从友</tspan><tspan x="570" dy="14.3">善开始，比如，握握他的手，摸摸他的头等。</tspan><tspan x="570" dy="14.3">从赞美着手，所有的人都渴望得到别人的理解</tspan><tspan x="570" dy="14.3">和尊重，所以，和差生交谈时，对他的处境、</tspan><tspan x="570" dy="14.3">想法表示深刻的理解和尊重，还有在批评学生</tspan><tspan x="570" dy="14.3">之前，先谈谈自己工作的不足。</tspan></text>
</g>
<g id="n-E4">
<text class="t" x="570" y="2649.4"><tspan x="570" dy="0">3、积极参与多媒体教学设计交流，观摩优秀</tspan><tspan x="570" dy="14.3">课件及教案，虚心向同行学习教学方法，博采</tspan><tspan x="570" dy="14.3">众长，提高教学水平。现在我利用业余时间学</tspan><tspan x="570" dy="14.3">习，不但提高了自己相关的业务技能，同时也</tspan><tspan x="570" dy="14.3">为全体小语教师提供了很好的课件交流服务。</tspan></text>
</g>
<g id="n-E5">
<text class="t" x="570" y="2754.55"><tspan x="570" dy="0">4、认真学习新课标要求，勇于从事语文教学</tspan><tspan x="570" dy="14.3">的新尝试，并成功的运用电脑多媒体课件上了</tspan><tspan x="570" dy="14.3">一节语文公开课《翠鸟》，借以带动现代语文</tspan><tspan x="570" dy="14.3">教学工作的创新。</tspan></text>
</g>
<g id="n-E6">
<text class="t" x="570" y="2868.55"><tspan x="570" dy="0">5、“金无足赤，人无完人”，在教学工作中难</tspan><tspan x="570" dy="14.3">免有缺陷，例如：授课时重点突出不够明确，</tspan><tspan x="570" dy="14.3">平时对于学生整体照顾不够等。现在，我也正</tspan><tspan x="570" dy="14.3">在不断改正中。</tspan></text>
<text class="t" x="311" y="2847.1"><tspan x="311" dy="0">总之，在本学期的各科教学工作中，我都力争</tspan><tspan x="311" dy="14.3">严格要求自己，无任何有悖教学大纲和新课改</tspan><tspan x="311" dy="14.3">要求的做法，并能做到为人师表，语言健康得</tspan><tspan x="311" dy="14.3">体，举止文明礼貌，以身作则，注重身教。在</tspan><tspan x="311" dy="14.3">今后的教学工作中，我仍将一如既往的要求自</tspan><tspan x="311" dy="14.3">己，努力工作，发扬优点，改正缺点，开拓前</tspan><tspan x="311" dy="14.3">进，为母校的建设与发展奉献自己的力量！</tspan></text>
</g>
<g id="n-F">
<text class="t" x="570" y="2980.95"><tspan x="570" dy="0">该怎么来形容这一年的时光匆匆呢，该怎么来</tspan><tspan x="570" dy="14.3">形容这一年我成为一名小学语文教师的感受呢</tspan><tspan x="570" dy="14.3">，这其中更多感受说不清楚也道不明白。我想</tspan><tspan x="570" dy="14.3">更多的应该是充满自豪和骄傲的。因为从小我</tspan><tspan x="570" dy="14.3">就立志要成为一名人民教师，后来我又爱上了</tspan><tspan x="570" dy="14.3">语文专业，再到后来通过我的努力和对梦想的</tspan><tspan x="570" dy="14.3">不懈追求，我就成为了一名_小学里的一名语</tspan><tspan x="570" dy="14.3">文教师。</tspan></text>
<text class="t" x="570" y="3130.25"><tspan x="570" dy="0">作为一名小学语文教师，在过去的一年里，我</tspan><tspan x="570" dy="14.3">为了给学生们做一个好的榜样，我一直都在以</tspan><tspan x="570" dy="14.3">身作则的教导孩子们，不仅时刻保持自己认真</tspan><tspan x="570" dy="14.3">严谨的工作作风，还告诫时刻谨遵学校对教师</tspan><tspan x="570" dy="14.3">的要求和标准，为争当一名合格而优秀的教师</tspan><tspan x="570" dy="14.3">而努力着。</tspan></text>
<text class="t" x="570" y="3250.4"><tspan x="570" dy="0">在过去的一年里，__班级在我的带领下，不仅</tspan><tspan x="570" dy="14.3">拿到了语文成绩年级第一的成绩，还获得了2</tspan><tspan x="570" dy="14.3">0_年_地区语文创意最佳优秀作文奖，我相</tspan><tspan x="570" dy="14.3">信在接下来的一年里，还将会有更多不菲的成</tspan><tspan x="570" dy="14.3">绩。</tspan></text>
<text class="t" x="570" y="3357.25"><tspan x="570" dy="0">从我成为一名教师的那一刻起，我就始终记得</tspan><tspan x="570" dy="14.3">自己是一名人民教师，我的职责是什么，我的</tspan><tspan x="570" dy="14.3">责任又是什么。我身上肩负的不仅仅只是培养</tspan><tspan x="570" dy="14.3">祖国花朵的责任，还肩负了一个个家庭的希望</tspan><tspan x="570" dy="14.3">，这些家庭仅仅只是为了挣取到孩子们的学费</tspan><tspan x="570" dy="14.3">，就已经活得很辛苦了。</tspan></text>
<text class="t" x="570" y="3477.55"><tspan x="570" dy="0">在过去一年的时间里，我陪同_班的班主任做</tspan><tspan x="570" dy="14.3">了两次学生们的家访工作。一来是为了更好的</tspan><tspan x="570" dy="14.3">了解同学们，二来也是通过家访对孩子们的学</tspan><tspan x="570" dy="14.3">习起到一个建议和帮助的作用。</tspan></text>
<text class="t" x="570" y="3568.35"><tspan x="570" dy="0">在这两次的家访中，我了解到很多家长的不容</tspan><tspan x="570" dy="14.3">易，他们有的是农民工，经常会在烈日炎炎下</tspan><tspan x="570" dy="14.3">进行高空作业的工作；有的是环保员，经常会</tspan><tspan x="570" dy="14.3">在凌晨三四点钟的时候，在大街上进行清洁工</tspan><tspan x="570" dy="14.3">作；有的是工厂的工人，他们经常会不分昼夜</tspan><tspan x="570" dy="14.3">、日夜颠倒的在工厂进行着加班工作。不管他</tspan><tspan x="570" dy="14.3">们从事于哪行哪业，不管多么辛苦，他们也都</tspan><tspan x="570" dy="14.3">只希望自己的孩子能够过上更好的生活，能够</tspan><tspan x="570" dy="14.3">从一所名牌大学里毕业，能够有一个好的未来</tspan><tspan x="570" dy="14.3">。所以，在了解到这么多家长真实的想法之后</tspan><tspan x="570" dy="14.3">，我就更加的清楚了自己作为一名老师的责任</tspan><tspan x="570" dy="14.3">和担当。</tspan></text>
<text class="t" x="570" y="3775.1"><tspan x="570" dy="0">“春蚕到死丝方尽，蜡炬成灰泪始干”。我愿做</tspan><tspan x="570" dy="14.3">一支燃烧自己直至成灰烬的蜡烛，即使只剩下</tspan><tspan x="570" dy="14.3">一丝微弱的光芒，也要照亮孩子们前方遥远且</tspan><tspan x="570" dy="14.3">黑暗的路途。我愿贡献自己的青春，贡献自己</tspan><tspan x="570" dy="14.3">的学识，贡献自己全部的力量，用自己的毕生</tspan><tspan x="570" dy="14.3">所学和无限热情来指引孩子们走上一条正确且</tspan><tspan x="570" dy="14.3">光明的大道。</tspan></text>
</g>
</g>
</svg>
